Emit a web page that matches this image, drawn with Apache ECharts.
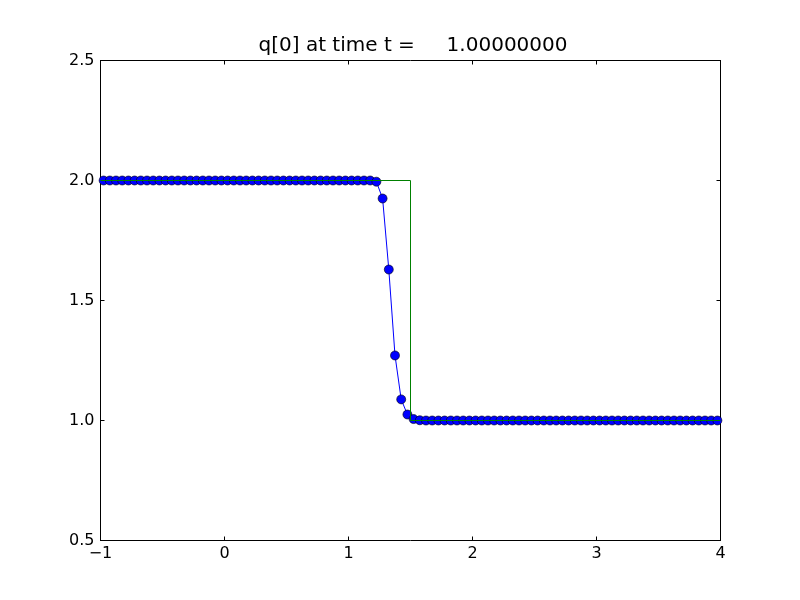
<!DOCTYPE html>
<html>
<head>
<meta charset="utf-8">
<script src="https://cdn.jsdelivr.net/npm/echarts@6/dist/echarts.min.js"></script>
<style>html,body{margin:0;padding:0;background:#fff}#c{width:800px;height:600px}</style>
</head>
<body>
<div id="c"></div>
<script>
var titleText = 'q[0] at time t =     1.00000000';
var xStart = -0.975, dx = 0.05;
var qValues = [
  2,2,2,2,2,2,2,2,2,2, 2,2,2,2,2,2,2,2,2,2,
  2,2,2,2,2,2,2,2,2,2, 2,2,2,2,2,2,2,2,2,2,
  2,2,2,2,
  1.995,1.925,1.629,1.271,1.088,1.025,1.006,1.001,
  1,1,1,1,1,1,1,1,1,1, 1,1,1,1,1,1,1,1,1,1,
  1,1,1,1,1,1,1,1,1,1, 1,1,1,1,1,1,1,1,1,1,
  1,1,1,1,1,1,1,1
];
var exactX = [-1, 1.5, 1.5, 4];
var exactY = [2, 2, 1, 1];
var xTicks = [-1, 0, 1, 2, 3, 4];
var yTicks = [0.5, 1.0, 1.5, 2.0, 2.5];

var qData = qValues.map(function (v, i) { return [xStart + dx * i, v]; });
var exactData = exactX.map(function (x, i) { return [x, exactY[i]]; });

var font = 'DejaVu Sans';
function axisBase(show) {
  return {
    axisLine: { show: true, onZero: false, lineStyle: { color: '#000', width: 1 } },
    axisTick: { show: true, inside: true, length: 4, lineStyle: { color: '#000' } },
    axisLabel: { show: show, color: '#000', fontFamily: font, fontSize: 16 },
    splitLine: { show: false }
  };
}
var xMain = Object.assign(axisBase(true), { type: 'value', position: 'bottom', min: xTicks[0], max: xTicks[xTicks.length - 1], interval: 1,
  axisLabel: { show: true, color: '#000', fontFamily: font, fontSize: 16, margin: 5,
    formatter: function (v) { return String(v).replace('-', '\u2212'); } } });
var xTop = Object.assign(axisBase(false), { type: 'value', position: 'top', min: -1, max: 4, interval: 1 });
var yMain = Object.assign(axisBase(true), { type: 'value', position: 'left', min: yTicks[0], max: yTicks[yTicks.length - 1], interval: 0.5,
  axisLabel: { show: true, color: '#000', fontFamily: font, fontSize: 16, margin: 6,
    formatter: function (v) { return v.toFixed(1); } } });
var yRight = Object.assign(axisBase(false), { type: 'value', position: 'right', min: 0.5, max: 2.5, interval: 0.5 });

var chart = echarts.init(document.getElementById('c'), null, { renderer: 'canvas' });
chart.setOption({
  animation: false,
  backgroundColor: '#fff',
  title: { text: titleText, left: 408, textAlign: 'center', top: 31,
    textStyle: { fontFamily: font, fontSize: 20, fontWeight: 'normal', color: '#000' } },
  grid: { left: 100.5, right: 79.5, top: 60.5, bottom: 59.5, show: false },
  xAxis: [xMain, xTop],
  yAxis: [yMain, yRight],
  series: [
    { type: 'line', data: qData, xAxisIndex: 0, yAxisIndex: 0,
      symbol: 'circle', symbolSize: 9, showAllSymbol: true, clip: true,
      lineStyle: { color: '#0000ff', width: 1 },
      itemStyle: { color: '#0000ff', borderColor: '#000', borderWidth: 0.6 }, z: 2 },
    { type: 'line', data: exactData, xAxisIndex: 0, yAxisIndex: 0,
      symbol: 'none', clip: true, zlevel: 1,
      lineStyle: { color: '#008000', width: 1 }, z: 10 }
  ]
});
</script>
</body>
</html>
